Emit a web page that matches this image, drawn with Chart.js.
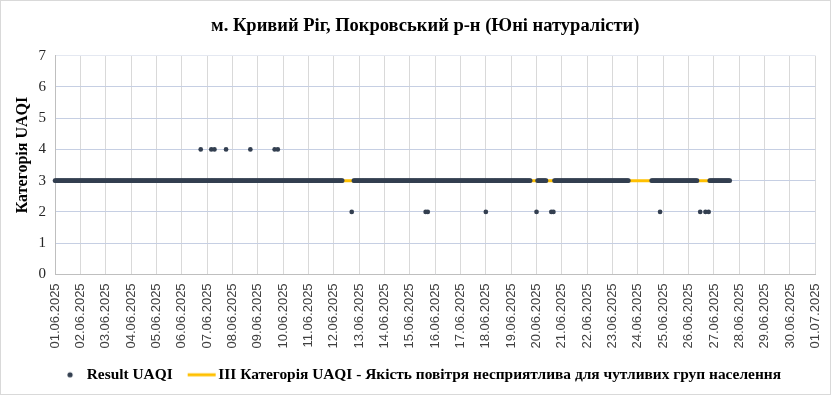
<!DOCTYPE html>
<html>
<head>
<meta charset="utf-8">
<script src="https://cdn.jsdelivr.net/npm/chart.js@4/dist/chart.umd.min.js"></script>
<style>
  html, body { margin: 0; padding: 0; background: #ffffff; }
  #wrap { width: 832px; height: 395px; position: relative; }
</style>
</head>
<body>
<div id="wrap"><canvas id="c" width="832" height="395"></canvas></div>
<script>
// ---- Data (hour index counted from 01.06.2025 00:00) ----
const tickLabels = ['01.06.2025','02.06.2025','03.06.2025','04.06.2025','05.06.2025','06.06.2025','07.06.2025','08.06.2025','09.06.2025','10.06.2025','11.06.2025','12.06.2025','13.06.2025','14.06.2025','15.06.2025','16.06.2025','17.06.2025','18.06.2025','19.06.2025','20.06.2025','21.06.2025','22.06.2025','23.06.2025','24.06.2025','25.06.2025','26.06.2025','27.06.2025','28.06.2025','29.06.2025','30.06.2025','01.07.2025'];

// runs of consecutive hourly readings equal to UAQI category 3: [first hour, last hour]
const runsAtCategory3 = [[0, 272], [283, 450], [457, 465], [473, 543], [565, 608], [620, 639]];
// single hourly readings equal to UAQI category 4
const hoursAtCategory4 = [138, 148, 151, 162, 185, 208, 211];
// single hourly readings equal to UAQI category 2
const hoursAtCategory2 = [281, 351, 353, 408, 456, 470, 472, 573, 611, 616, 619];

const categoryLevel = 3;
const seriesNames = ['Result UAQI', 'ІІІ Категорія UAQI - Якість повітря несприятлива для чутливих груп населення'];
const chartTitle = 'м. Кривий Ріг, Покровський р-н (Юні натуралісти)';
const yAxisTitle = 'Категорія UAQI';

// ---- Build datasets from the arrays ----
const resultPoints = [];
runsAtCategory3.forEach(([a, b]) => { for (let h = a; h <= b; h++) resultPoints.push({ x: h, y: 3 }); });
hoursAtCategory4.forEach(h => resultPoints.push({ x: h, y: 4 }));
hoursAtCategory2.forEach(h => resultPoints.push({ x: h, y: 2 }));

const firstHour = runsAtCategory3[0][0];
const lastHour = runsAtCategory3[runsAtCategory3.length - 1][1];
const levelLine = [{ x: firstHour, y: categoryLevel }, { x: lastHour, y: categoryLevel }];

const DOT = '#333f50';
const YELLOW = '#ffc000';

function dotIcon() {
  const c = document.createElement('canvas'); c.width = 28; c.height = 10;
  const g = c.getContext('2d'); g.fillStyle = DOT; g.beginPath(); g.arc(19, 5, 2.6, 0, Math.PI * 2); g.fill();
  return c;
}
function lineIcon() {
  const c = document.createElement('canvas'); c.width = 40; c.height = 10;
  const g = c.getContext('2d'); g.fillStyle = YELLOW; g.fillRect(11, 3.5, 28, 3);
  return c;
}
const icons = [dotIcon(), lineIcon()];

const borderPlugin = {
  id: 'outerBorder',
  afterDraw(chart) {
    const ctx = chart.ctx;
    ctx.save();
    ctx.strokeStyle = '#d9d9d9'; ctx.lineWidth = 1;
    ctx.strokeRect(0.5, 0.5, chart.width - 2, chart.height - 1);
    ctx.restore();
  }
};

Chart.defaults.font.family = "'Liberation Serif', 'Times New Roman', serif";
Chart.defaults.animation = false;

new Chart(document.getElementById('c'), {
  type: 'scatter',
  data: {
    datasets: [
      {
        label: seriesNames[0],
        data: resultPoints,
        pointRadius: 2.35,
        pointHoverRadius: 2.35,
        pointBorderWidth: 0,
        pointBackgroundColor: DOT,
        backgroundColor: DOT,
        borderColor: DOT,
        showLine: false,
        clip: 6,
        order: 1
      },
      {
        label: seriesNames[1],
        data: levelLine,
        showLine: true,
        borderColor: YELLOW,
        backgroundColor: YELLOW,
        borderWidth: 3,
        pointRadius: 0,
        order: 2
      }
    ]
  },
  options: {
    responsive: false,
    layout: { padding: { left: 0, right: 0, top: 0, bottom: 2.5 } },
    plugins: {
      title: {
        display: true,
        text: '    ' + chartTitle,
        color: '#000000',
        font: { family: "'Liberation Serif', serif", size: 18.5, weight: 'bold' },
        padding: { top: 15.4, bottom: 18.1 }
      },
      legend: {
        display: true,
        position: 'bottom',
        labels: {
          usePointStyle: true,
          pointStyleWidth: 28,
          boxHeight: 10,
          padding: 10,
          color: '#000000',
          font: { family: "'Liberation Serif', serif", size: 15.4, weight: 'bold' },
          generateLabels(chart) {
            return chart.data.datasets.map((ds, i) => ({
              text: ds.label,
              pointStyle: icons[i],
              fillStyle: i === 0 ? DOT : YELLOW,
              strokeStyle: i === 0 ? DOT : YELLOW,
              lineWidth: 0,
              fontColor: '#000000',
              hidden: false,
              datasetIndex: i
            }));
          }
        }
      },
      tooltip: { enabled: false }
    },
    scales: {
      x: {
        type: 'linear',
        min: 0,
        max: (tickLabels.length - 1) * 24,
        afterFit(scale) { scale.height = 82.7; scale.paddingLeft = 0; scale.paddingRight = 16.7; },
        ticks: {
          stepSize: 24,
          autoSkip: false,
          maxRotation: 90,
          minRotation: 90,
          padding: 9,
          color: '#404040',
          font: { family: "'Liberation Sans', Arial, sans-serif", size: 13 },
          callback: (v) => tickLabels[Math.round(v / 24)]
        },
        grid: { color: '#d9d9d9', lineWidth: 1, drawTicks: false },
        border: { color: '#bfbfbf', width: 1 }
      },
      y: {
        min: 0,
        max: 7,
        afterFit(scale) { scale.width = 55; },
        ticks: {
          stepSize: 1,
          padding: 9,
          color: '#262626',
          font: { family: "'Liberation Serif', serif", size: 15 }
        },
        grid: {
          drawTicks: false,
          lineWidth: 1,
          color: (ctx) => (ctx.tick && ctx.tick.value === 7) ? '#e4e8f1' : '#c6cfe3'
        },
        border: { color: '#bfbfbf', width: 1 },
        title: {
          display: true,
          text: '     ' + yAxisTitle,
          color: '#000000',
          font: { family: "'Liberation Serif', serif", size: 16, weight: 'bold' },
          padding: { top: 13.4, bottom: 0 }
        }
      }
    }
  },
  plugins: [borderPlugin]
});
</script>
</body>
</html>
